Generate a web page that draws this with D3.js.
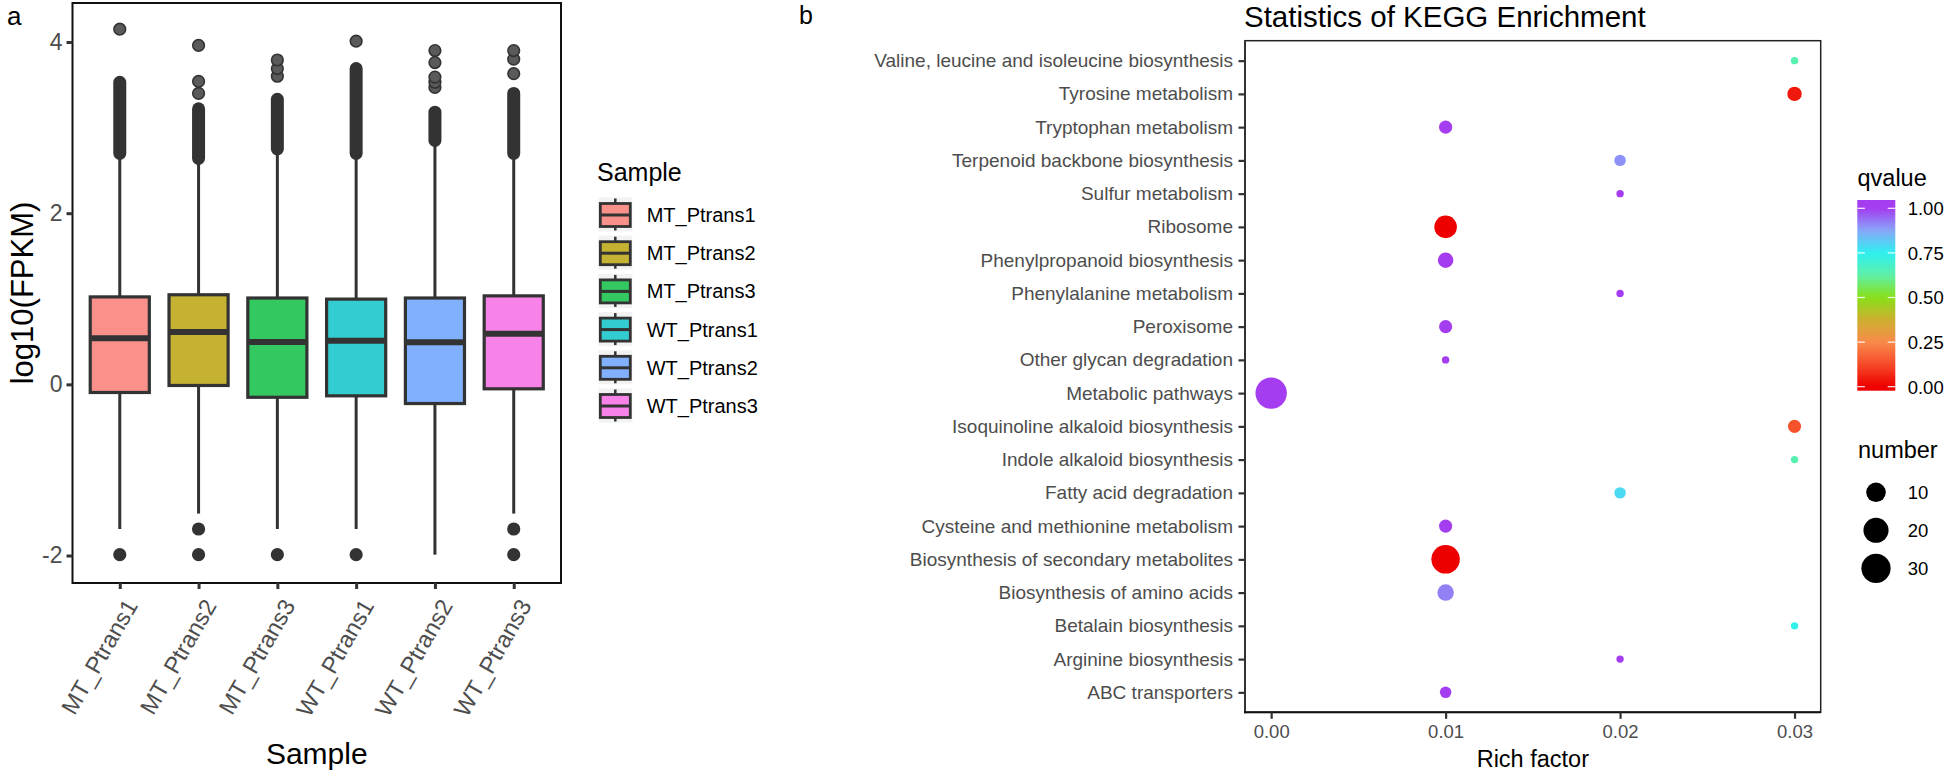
<!DOCTYPE html>
<html>
<head>
<meta charset="utf-8">
<script src="https://cdn.jsdelivr.net/npm/d3@7"></script>
<style>
  html, body { margin: 0; padding: 0; background: #fff; }
  svg { display: block; }
  text { font-family: "Liberation Sans", Arial, Helvetica, sans-serif; }
</style>
</head>
<body>
<svg id="chart" width="1946" height="775"></svg>
<script>
// ---------------- Panel a data (boxplot of log10(FPKM)) ----------------
const samples = ["MT_Ptrans1", "MT_Ptrans2", "MT_Ptrans3", "WT_Ptrans1", "WT_Ptrans2", "WT_Ptrans3"];
const boxQ1     = [-0.095, -0.013, -0.151, -0.134, -0.224, -0.052];
const boxMedian = [0.539, 0.612, 0.496, 0.509, 0.491, 0.591];
const boxQ3     = [1.022, 1.047, 1.009, 0.996, 1.009, 1.034];
const whiskerLow  = [-1.69, -1.51, -1.69, -1.69, -1.99, -1.51];
const whiskerHigh = [2.66, 2.60, 2.71, 2.66, 2.81, 2.66];
// dense runs of overlapping outliers (low / high centre values)
const outlierRunLow  = [2.70, 2.64, 2.75, 2.70, 2.85, 2.70];
const outlierRunHigh = [3.53, 3.22, 3.33, 3.69, 3.18, 3.40];
// separately visible outliers
const outliers = [
  [4.15, -1.99],
  [3.40, 3.54, 3.96, -1.69, -1.99],
  [3.60, 3.69, 3.79, -1.99],
  [4.01, -1.99],
  [3.47, 3.53, 3.59, 3.76, 3.90],
  [3.63, 3.80, 3.90, -1.69, -1.99]
];
const sampleColors = ["#F8766D", "#B79F00", "#00BA38", "#00BFC4", "#619CFF", "#F564E3"];
const yTicksA = [-2, 0, 2, 4];

// ---------------- Panel b data (KEGG enrichment) ----------------
const pathways = [
  "Valine, leucine and isoleucine biosynthesis",
  "Tyrosine metabolism",
  "Tryptophan metabolism",
  "Terpenoid backbone biosynthesis",
  "Sulfur metabolism",
  "Ribosome",
  "Phenylpropanoid biosynthesis",
  "Phenylalanine metabolism",
  "Peroxisome",
  "Other glycan degradation",
  "Metabolic pathways",
  "Isoquinoline alkaloid biosynthesis",
  "Indole alkaloid biosynthesis",
  "Fatty acid degradation",
  "Cysteine and methionine metabolism",
  "Biosynthesis of secondary metabolites",
  "Biosynthesis of amino acids",
  "Betalain biosynthesis",
  "Arginine biosynthesis",
  "ABC transporters"
];
const richFactor = [0.03, 0.03, 0.01, 0.02, 0.02, 0.01, 0.01, 0.02, 0.01, 0.01, 0.00, 0.03, 0.03, 0.02, 0.01, 0.01, 0.01, 0.03, 0.02, 0.01];
const geneNumber = [1, 4, 3, 2, 1, 15, 5, 1, 3, 1, 36, 3, 1, 2, 3, 28, 6, 1, 1, 2];
const qvalue     = [0.64, 0.04, 1.0, 0.9, 1.0, 0.0, 1.0, 1.0, 1.0, 1.0, 1.0, 0.14, 0.64, 0.79, 1.0, 0.0, 0.92, 0.74, 1.0, 1.0];
const xTicksB = [0.00, 0.01, 0.02, 0.03];
const qTicks = [0.00, 0.25, 0.50, 0.75, 1.00];
const sizeLegendValues = [10, 20, 30];
const qStops  = [0.0, 0.125, 0.25, 0.375, 0.5, 0.625, 0.75, 0.875, 1.0];
const qColors = ["#ee0000", "#f54a28", "#f98a4a", "#cdb030", "#88e018", "#5ef0a8", "#2ef0f0", "#88a8f8", "#a43cf0"];

// ---------------- drawing ----------------
const svg = d3.select("#chart");
svg.append("rect").attr("width", 1946).attr("height", 775).attr("fill", "#fff");

const DARK = "#333333";
const GREY = "#4d4d4d";

// ===== Panel a =====
const A = {left: 72.5, right: 561, top: 3, bottom: 583};
const xa = d3.scalePoint().domain(samples).range([A.left, A.right]).padding(0.6);
const ya = d3.scaleLinear().domain([-2.321, 4.456]).range([A.bottom, A.top]);
const boxW = xa.step() * 0.75;
const ga = svg.append("g");

samples.forEach((s, i) => {
  const cx = xa(s);
  const g = ga.append("g");
  g.append("line").attr("x1", cx).attr("x2", cx)
    .attr("y1", ya(boxQ3[i])).attr("y2", ya(whiskerHigh[i]))
    .attr("stroke", DARK).attr("stroke-width", 3);
  g.append("line").attr("x1", cx).attr("x2", cx)
    .attr("y1", ya(boxQ1[i])).attr("y2", ya(whiskerLow[i]))
    .attr("stroke", DARK).attr("stroke-width", 3);
  g.append("line").attr("x1", cx).attr("x2", cx)
    .attr("y1", ya(outlierRunLow[i])).attr("y2", ya(outlierRunHigh[i]))
    .attr("stroke", DARK).attr("stroke-width", 13).attr("stroke-linecap", "round");
  g.selectAll("circle.o").data(outliers[i]).enter().append("circle")
    .attr("cx", cx).attr("cy", d => ya(d)).attr("r", 5.8)
    .attr("fill", d => d > 0 ? "#5a5a5a" : DARK)
    .attr("stroke", DARK).attr("stroke-width", 1.6);
  g.append("rect").attr("x", cx - boxW / 2).attr("width", boxW)
    .attr("y", ya(boxQ3[i])).attr("height", ya(boxQ1[i]) - ya(boxQ3[i]))
    .attr("fill", sampleColors[i]).attr("fill-opacity", 0.8)
    .attr("stroke", DARK).attr("stroke-width", 3.2);
  g.append("line").attr("x1", cx - boxW / 2 + 1).attr("x2", cx + boxW / 2 - 1)
    .attr("y1", ya(boxMedian[i])).attr("y2", ya(boxMedian[i]))
    .attr("stroke", DARK).attr("stroke-width", 6);
});

ga.append("rect").attr("x", A.left).attr("y", A.top)
  .attr("width", A.right - A.left).attr("height", A.bottom - A.top)
  .attr("fill", "none").attr("stroke", "#111").attr("stroke-width", 2);

const yAxisA = ga.append("g").attr("transform", `translate(${A.left},0)`)
  .call(d3.axisLeft(ya).tickValues(yTicksA).tickSize(6).tickPadding(4).tickFormat(d => String(d)));
yAxisA.select(".domain").remove();
yAxisA.selectAll(".tick line").attr("stroke", DARK).attr("stroke-width", 3);
yAxisA.selectAll(".tick text").attr("font-size", 23).attr("fill", GREY)
  .attr("font-family", "Liberation Sans, Arial, sans-serif");

const xAxisA = ga.append("g").attr("transform", `translate(0,${A.bottom})`)
  .call(d3.axisBottom(xa).tickSize(6).tickFormat(""));
xAxisA.select(".domain").remove();
xAxisA.selectAll(".tick line").attr("stroke", DARK).attr("stroke-width", 3);
ga.selectAll("text.xlab").data(samples).enter().append("text")
  .attr("class", "xlab")
  .attr("transform", d => `translate(${xa(d) + 4},${A.bottom + 14}) rotate(-60)`)
  .attr("text-anchor", "end").attr("dy", "0.72em")
  .attr("font-size", 23.5).attr("fill", GREY).text(d => d);

ga.append("text").attr("x", (A.left + A.right) / 2).attr("y", 764)
  .attr("text-anchor", "middle").attr("font-size", 30).attr("fill", "#000").text("Sample");
ga.append("text").attr("transform", `translate(33,${(A.top + A.bottom) / 2}) rotate(-90)`)
  .attr("text-anchor", "middle").attr("font-size", 31).attr("fill", "#000").text("log10(FPKM)");

svg.append("text").attr("x", 7).attr("y", 25).attr("font-size", 26).attr("fill", "#000").text("a");

// legend a
const la = svg.append("g");
la.append("text").attr("x", 597).attr("y", 181).attr("font-size", 25).attr("fill", "#000").text("Sample");
samples.forEach((s, i) => {
  const cy = 214.5 + i * 38.2;
  const kx = 598.3, ks = 34;
  const g = la.append("g");
  g.append("rect").attr("x", kx).attr("y", cy - ks / 2).attr("width", ks).attr("height", ks).attr("fill", "#f2f2f2");
  g.append("line").attr("x1", kx + ks / 2).attr("x2", kx + ks / 2)
    .attr("y1", cy - ks / 2 + 1).attr("y2", cy + ks / 2 - 1).attr("stroke", DARK).attr("stroke-width", 2.5);
  g.append("rect").attr("x", kx + 2).attr("y", cy - 11).attr("width", ks - 4).attr("height", 23)
    .attr("fill", "#fff").attr("stroke", "none");
  g.append("rect").attr("x", kx + 2).attr("y", cy - 11).attr("width", ks - 4).attr("height", 23)
    .attr("fill", sampleColors[i]).attr("fill-opacity", 0.8).attr("stroke", DARK).attr("stroke-width", 2.8);
  g.append("line").attr("x1", kx + 2).attr("x2", kx + ks - 2).attr("y1", cy + 0.5).attr("y2", cy + 0.5)
    .attr("stroke", DARK).attr("stroke-width", 3);
  g.append("text").attr("x", 646.7).attr("y", cy + 7.5).attr("font-size", 20).attr("fill", "#000").text(s);
});

// ===== Panel b =====
const B = {left: 1245, right: 1820.7, top: 40.7, bottom: 712.3};
const yb = d3.scalePoint().domain(pathways).range([B.top, B.bottom]).padding(0.6);
const xb = d3.scaleLinear().domain([-0.0015, 0.0315]).range([B.left, B.right]);
const nMin = d3.min(geneNumber), nMax = d3.max(geneNumber);
const sizeRoot = d3.scalePow().exponent(0.5).domain([0, nMax - nMin]).range([3.7, 15.7]);
const rOf = n => sizeRoot(Math.max(0, n - nMin));
const qColor = d3.scaleLinear().domain(qStops).range(qColors).interpolate(d3.interpolateRgb).clamp(true);

const gb = svg.append("g");
gb.append("rect").attr("x", B.left).attr("y", B.top)
  .attr("width", B.right - B.left).attr("height", B.bottom - B.top)
  .attr("fill", "none").attr("stroke", "#222").attr("stroke-width", 1.5);
gb.append("line").attr("x1", B.left).attr("x2", B.left).attr("y1", B.top).attr("y2", B.bottom + 1)
  .attr("stroke", DARK).attr("stroke-width", 2);
gb.append("line").attr("x1", B.left - 1).attr("x2", B.right).attr("y1", B.bottom).attr("y2", B.bottom)
  .attr("stroke", "#111").attr("stroke-width", 2);

const pts = pathways.map((p, i) => ({p, x: richFactor[i], n: geneNumber[i], q: qvalue[i]}));
gb.selectAll("circle.pt").data(pts).enter().append("circle")
  .attr("cx", d => xb(d.x)).attr("cy", d => yb(d.p)).attr("r", d => rOf(d.n))
  .attr("fill", d => qColor(d.q));

const yAxisB = gb.append("g").attr("transform", `translate(${B.left},0)`)
  .call(d3.axisLeft(yb).tickSize(6.5).tickPadding(5.5));
yAxisB.select(".domain").remove();
yAxisB.selectAll(".tick line").attr("stroke", DARK).attr("stroke-width", 2.2);
yAxisB.selectAll(".tick text").attr("font-size", 19).attr("fill", GREY)
  .attr("font-family", "Liberation Sans, Arial, sans-serif");

const xAxisB = gb.append("g").attr("transform", `translate(0,${B.bottom})`)
  .call(d3.axisBottom(xb).tickValues(xTicksB).tickSize(6.5).tickPadding(6).tickFormat(d3.format(".2f")));
xAxisB.select(".domain").remove();
xAxisB.selectAll(".tick line").attr("stroke", DARK).attr("stroke-width", 2.2);
xAxisB.selectAll(".tick text").attr("font-size", 18.5).attr("fill", GREY)
  .attr("font-family", "Liberation Sans, Arial, sans-serif");

gb.append("text").attr("x", (B.left + B.right) / 2).attr("y", 767)
  .attr("text-anchor", "middle").attr("font-size", 23.5).attr("fill", "#000").text("Rich factor");
gb.append("text").attr("x", B.left - 1).attr("y", 27)
  .attr("font-size", 29.5).attr("fill", "#000").text("Statistics of KEGG Enrichment");
svg.append("text").attr("x", 799).attr("y", 24).attr("font-size", 25).attr("fill", "#000").text("b");

// colourbar legend
const lb = svg.append("g");
lb.append("text").attr("x", 1857.5).attr("y", 186).attr("font-size", 23.5).attr("fill", "#000").text("qvalue");
const barX = 1857.3, barW = 38, barTop = 200, barBot = 390.7;
const qPos = d3.scaleLinear().domain([0, 1]).range([386.7, 208.3]);
const grad = svg.append("defs").append("linearGradient").attr("id", "qgrad")
  .attr("x1", 0).attr("x2", 0).attr("y1", 1).attr("y2", 0);
d3.range(0, 41).forEach(k => {
  const t = k / 40;
  const yy = barBot - t * (barBot - barTop);
  grad.append("stop").attr("offset", t).attr("stop-color", qColor(qPos.invert(yy)));
});
lb.append("rect").attr("x", barX).attr("y", barTop).attr("width", barW).attr("height", barBot - barTop)
  .attr("fill", "url(#qgrad)");
qTicks.forEach(t => {
  const yy = qPos(t);
  lb.append("line").attr("x1", barX).attr("x2", barX + 7.6).attr("y1", yy).attr("y2", yy)
    .attr("stroke", "#fff").attr("stroke-width", 1.2).attr("stroke-opacity", 0.9);
  lb.append("line").attr("x1", barX + barW - 7.6).attr("x2", barX + barW).attr("y1", yy).attr("y2", yy)
    .attr("stroke", "#fff").attr("stroke-width", 1.2).attr("stroke-opacity", 0.9);
  lb.append("text").attr("x", 1907.7).attr("y", yy + 6.8).attr("font-size", 18.5).attr("fill", "#000")
    .text(d3.format(".2f")(t));
});

// size legend
lb.append("text").attr("x", 1858).attr("y", 458).attr("font-size", 23.5).attr("fill", "#000").text("number");
sizeLegendValues.forEach((v, i) => {
  const cy = 492.3 + i * 38;
  lb.append("circle").attr("cx", 1876).attr("cy", cy).attr("r", rOf(v)).attr("fill", "#000");
  lb.append("text").attr("x", 1907.7).attr("y", cy + 6.8).attr("font-size", 18.5).attr("fill", "#000").text(v);
});
</script>
</body>
</html>
